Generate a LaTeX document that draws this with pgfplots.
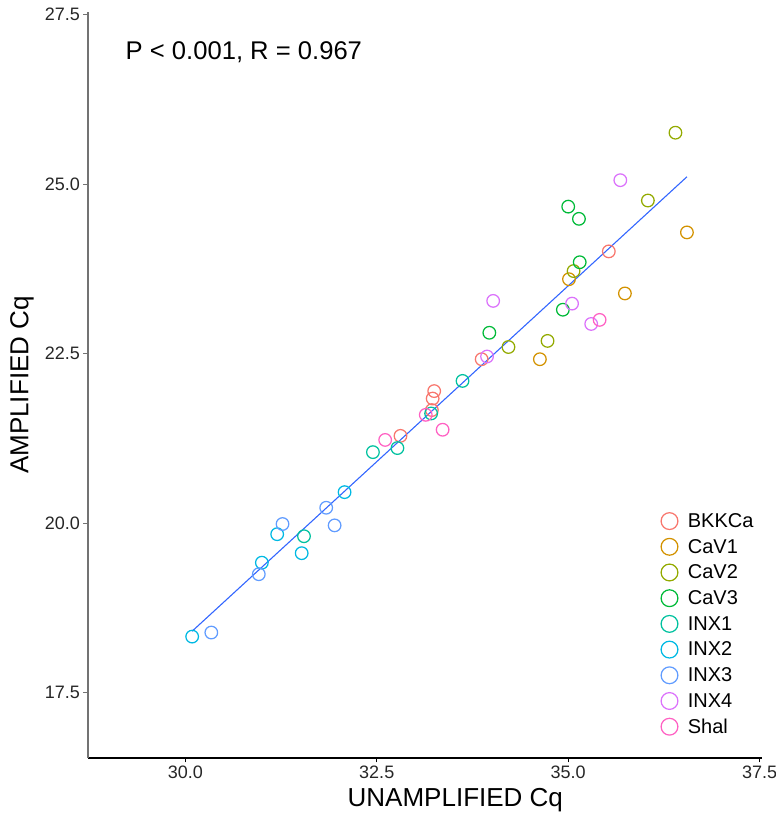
\documentclass[border=0pt]{standalone}
\usepackage{fontspec}
\setmainfont{Liberation Sans}
\usepackage{pgfplots}
\pgfplotsset{compat=1.18}

% ggplot hue palette, 9 groups
\definecolor{cBKKCa}{HTML}{F8766D}
\definecolor{cCaVa}{HTML}{D39200}
\definecolor{cCaVb}{HTML}{93AA00}
\definecolor{cCaVc}{HTML}{00BA38}
\definecolor{cINXa}{HTML}{00C19F}
\definecolor{cINXb}{HTML}{00B9E3}
\definecolor{cINXc}{HTML}{619CFF}
\definecolor{cINXd}{HTML}{DB72FB}
\definecolor{cShal}{HTML}{FF61C3}
\definecolor{fitblue}{HTML}{3366FF}

\pgfplotsset{
  pt/.style={only marks, mark=o, mark size=6.3pt, line width=1.25pt, color=#1},
}

\begin{document}
\begin{tikzpicture}
\begin{axis}[
  scale only axis, width=674pt, height=746pt,
  xmin=28.73, xmax=37.53, ymin=16.54, ymax=27.54,
  axis x line*=bottom, axis y line*=left,
  x axis line style={black, line width=1.1pt, -},
  y axis line style={black!55, line width=1.1pt, -},
  xtick={30,32.5,35,37.5}, ytick={17.5,20,22.5,25,27.5},
  tick align=outside, major tick length=4.5pt,
  xtick style={black, line width=1pt},
  ytick style={black!55, line width=1pt},
  /pgf/number format/fixed, /pgf/number format/fixed zerofill,
  /pgf/number format/precision=1, /pgf/number format/assume math mode=true,
  xticklabel style={font=\fontsize{18}{20}\selectfont, text=black!85},
  yticklabel style={font=\fontsize{18}{20}\selectfont, text=black!85},
  xlabel={UNAMPLIFIED Cq}, ylabel={AMPLIFIED Cq},
  xlabel style={font=\fontsize{26}{30}\selectfont, at={(axis description cs:0.545,-0.0563)}, anchor=center},
  ylabel style={font=\fontsize{26}{30}\selectfont, at={(axis description cs:-0.098,0.5)}, anchor=center},
  legend cell align=left,
  legend style={at={(axis cs:36.21,20.16)}, anchor=north west, draw=none, fill=none,
    inner sep=0pt, font=\fontsize{20}{22}\selectfont,
    nodes={inner sep=0pt}, row sep=8.9pt,
    /tikz/every odd column/.append style={column sep=10pt}},
  legend image code/.code={\draw[#1, mark size=8.4pt] plot coordinates {(0pt,0pt)};},
]
\coordinate (ll) at (rel axis cs:0,0);
\coordinate (ur) at (rel axis cs:1,1);

\addplot[pt=cBKKCa] coordinates {(32.81,21.29) (33.22,21.67) (33.23,21.84) (33.25,21.95) (33.87,22.42) (35.53,24.01)};
\addlegendentry{BKKCa}
\addplot[pt=cCaVa] coordinates {(34.63,22.42) (35.01,23.60) (35.74,23.39) (36.55,24.29)};
\addlegendentry{CaV1}
\addplot[pt=cCaVb] coordinates {(34.22,22.60) (34.73,22.69) (35.07,23.72) (36.04,24.76) (36.40,25.76)};
\addlegendentry{CaV2}
\addplot[pt=cCaVc] coordinates {(33.97,22.81) (34.93,23.15) (35.15,23.85) (35.14,24.49) (35.00,24.67)};
\addlegendentry{CaV3}
\addplot[pt=cINXa] coordinates {(31.55,19.81) (32.45,21.05) (32.77,21.11) (33.21,21.62) (33.62,22.10)};
\addlegendentry{INX1}
\addplot[pt=cINXb] coordinates {(30.09,18.33) (31.00,19.42) (31.20,19.84) (31.52,19.56) (32.08,20.46)};
\addlegendentry{INX2}
\addplot[pt=cINXc] coordinates {(30.34,18.39) (30.96,19.25) (31.27,19.99) (31.84,20.23) (31.95,19.97)};
\addlegendentry{INX3}
\addplot[pt=cINXd] coordinates {(33.94,22.46) (34.02,23.28) (35.05,23.24) (35.30,22.94) (35.68,25.06)};
\addlegendentry{INX4}
\addplot[pt=cShal] coordinates {(32.61,21.23) (33.14,21.60) (33.36,21.38) (35.41,23.00)};
\addlegendentry{Shal}

% linear fit
\addplot[color=fitblue, line width=1.1pt, forget plot] coordinates {(30.09,18.41) (36.55,25.11)};

\node[anchor=west, font=\fontsize{25.6}{28}\selectfont, inner sep=0pt] at (axis cs:29.22,26.95) {P < 0.001, R = 0.967};
\end{axis}
\pgfresetboundingbox
\path[use as bounding box] ([shift={(-88pt,-60pt)}]ll) rectangle ([shift={(14pt,12pt)}]ur);
\end{tikzpicture}
\end{document}
